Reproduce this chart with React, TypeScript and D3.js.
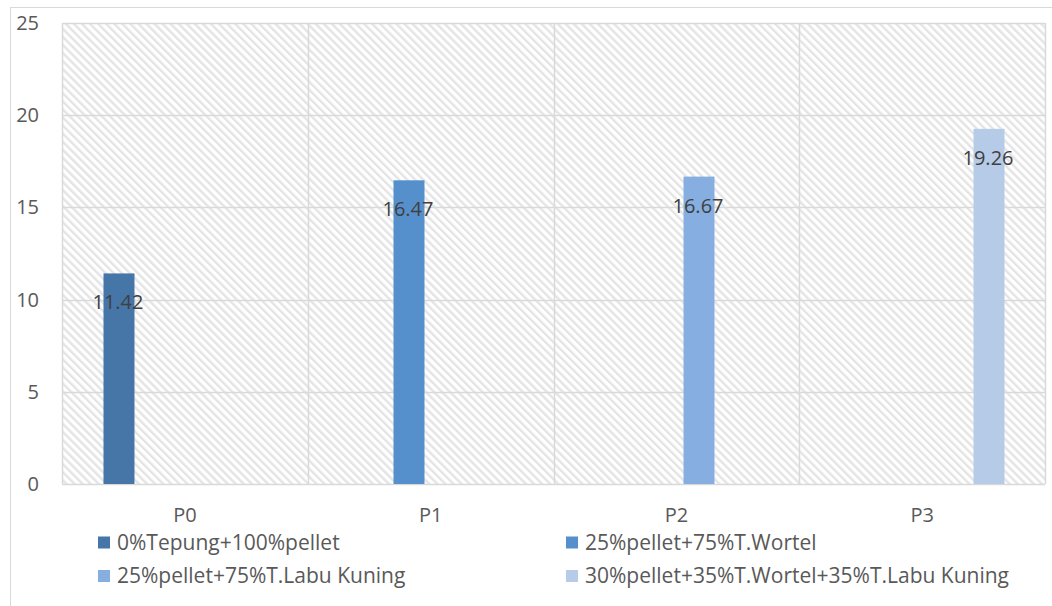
import React from "react";
import * as d3 from "d3";

// Treatment groups and the measured value for each formulation
const categories = ["P0", "P1", "P2", "P3"];
const seriesNames = [
  "0%Tepung+100%pellet",
  "25%pellet+75%T.Wortel",
  "25%pellet+75%T.Labu Kuning",
  "30%pellet+35%T.Wortel+35%T.Labu Kuning",
];
const seriesValues = [11.42, 16.47, 16.67, 19.26];
const seriesColors = ["#4675a8", "#5690cc", "#86aee0", "#b6cbe8"];
const yTicks = [0, 5, 10, 15, 20, 25];

const W = 1052;
const H = 606;
const plot = { left: 62, top: 23, right: 1045, bottom: 484 };
const FONT = "'Open Sans', 'Liberation Sans', sans-serif";
const TEXT = "#595959";
const GRID = "#d9d9d9";

export default function App() {
  const y = d3.scaleLinear().domain([0, 25]).range([plot.bottom, plot.top]);
  const x0 = d3.scaleBand<string>().domain(categories).range([plot.left, plot.right]);
  const bw = x0.bandwidth();
  const groupInset = 41.5;
  const x1 = d3
    .scaleBand<string>()
    .domain(seriesNames)
    .range([groupInset, bw - groupInset + 1])
    .paddingInner(0.3);

  const legendRows = [
    [0, 1],
    [2, 3],
  ];
  const legendCols = [98, 566];
  const legendRowY = [543.5, 577];

  return (
    <svg
      width={W}
      height={H}
      style={{ position: "absolute", left: 0, top: 0, background: "#fff" }}
      fontFamily={FONT}
    >
      <defs>
        <pattern
          id="hatch"
          width={5.7}
          height={5.7}
          patternUnits="userSpaceOnUse"
          patternTransform="rotate(-45)"
        >
          <rect width={5.7} height={5.7} fill="#ffffff" />
          <rect width={2.4} height={5.7} fill="#e4e4e4" />
        </pattern>
      </defs>

      {/* chart area frame */}
      <rect x={10.5} y={7.5} width={W} height={H} fill="none" stroke={GRID} />

      {/* plot area with hatched fill */}
      <rect
        x={plot.left}
        y={plot.top}
        width={plot.right - plot.left}
        height={plot.bottom - plot.top}
        fill="url(#hatch)"
      />

      {/* horizontal gridlines */}
      {yTicks.map((t) => (
        <line
          key={`h${t}`}
          x1={plot.left}
          x2={plot.right}
          y1={Math.round(y(t)) + 0.5}
          y2={Math.round(y(t)) + 0.5}
          stroke={GRID}
          strokeWidth={1.5}
        />
      ))}

      {/* vertical gridlines at category boundaries */}
      {[...categories.map((c) => x0(c)!), plot.right].map((xv, i) => (
        <line
          key={`v${i}`}
          x1={Math.round(xv) + 0.5}
          x2={Math.round(xv) + 0.5}
          y1={plot.top}
          y2={plot.bottom}
          stroke={GRID}
          strokeWidth={1.5}
        />
      ))}

      {/* y-axis tick labels */}
      {yTicks.map((t) => (
        <text
          key={`yt${t}`}
          x={39}
          y={y(t)}
          dy="0.35em"
          textAnchor="end"
          fontSize={20}
          fill={TEXT}
        >
          {t}
        </text>
      ))}

      {/* bars: each series has its value in its own category */}
      {seriesNames.map((s, i) => {
        const cx = x0(categories[i])! + x1(s)!;
        const top = y(seriesValues[i]);
        return (
          <g key={s}>
            <rect
              x={cx}
              y={top}
              width={x1.bandwidth()}
              height={plot.bottom - top}
              fill={seriesColors[i]}
            />
            <text
              x={cx + x1.bandwidth() / 2 - 1}
              y={top + 29}
              dy="0.35em"
              textAnchor="middle"
              fontSize={20}
              fill="#404040"
            >
              {seriesValues[i].toFixed(2)}
            </text>
          </g>
        );
      })}

      {/* category labels */}
      {categories.map((c) => (
        <text
          key={c}
          x={x0(c)! + bw / 2}
          y={515}
          dy="0.35em"
          textAnchor="middle"
          fontSize={20}
          fill={TEXT}
        >
          {c}
        </text>
      ))}

      {/* legend */}
      {legendRows.map((row, ri) =>
        row.map((si, ci) => (
          <g key={`lg${si}`} transform={`translate(${legendCols[ci]},${legendRowY[ri]})`}>
            <rect x={0} y={-7} width={12} height={12} fill={seriesColors[si]} />
            <text x={19} y={0} dy="0.3em" fontSize={21} fill={TEXT}>
              {seriesNames[si]}
            </text>
          </g>
        ))
      )}
    </svg>
  );
}
